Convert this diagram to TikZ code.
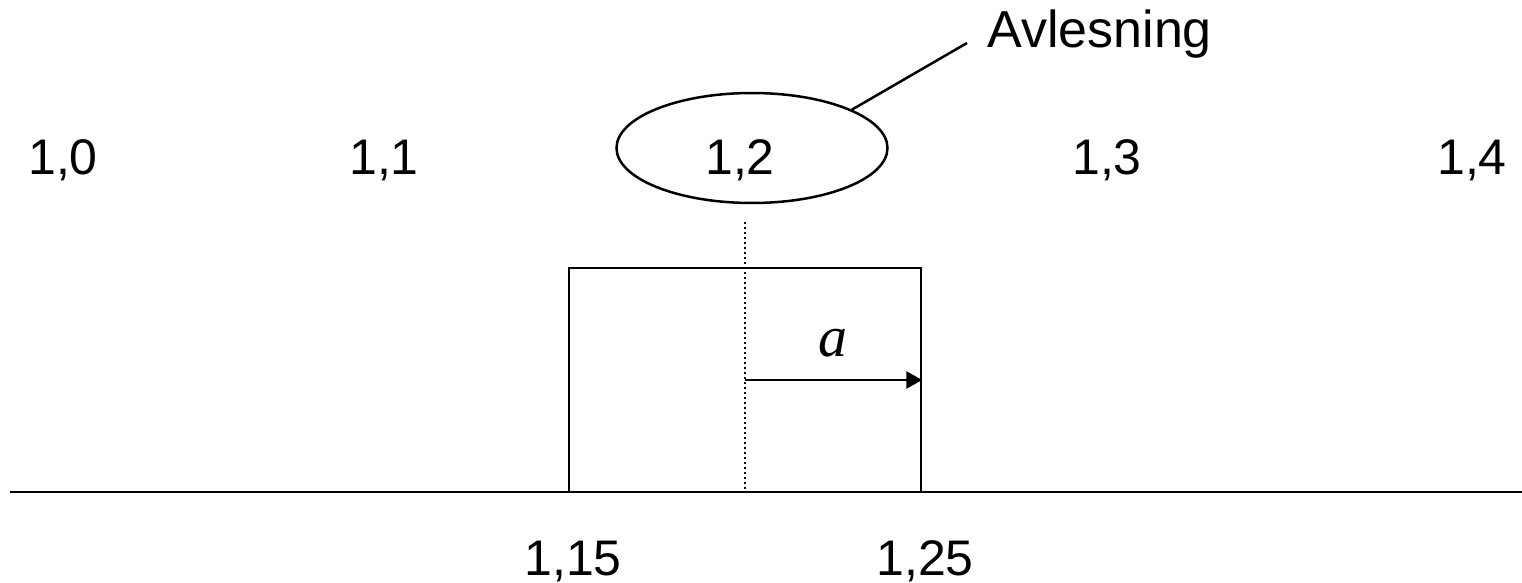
\documentclass[tikz,border=0pt]{standalone}
\usepackage{fontspec}
\setmainfont{Liberation Sans}
\newfontfamily\timesit{Liberation Serif}
\usetikzlibrary{shapes.geometric,arrows.meta}
\tikzset{
  lbl/.style={inner sep=0pt, anchor=base, font=\fontsize{25}{30}\selectfont},
  lin/.style={line width=1.25pt, black},
  dotline/.style={line width=1.2pt, dash pattern=on 1.1pt off 1.4pt},
}
\begin{document}
\begin{tikzpicture}[x=0.5pt,y=-0.5pt]
\useasboundingbox (0,0) rectangle (1522,583);
% scale labels
\node[lbl] (n10) at (63,175) {1,0};
\node[lbl] (n11) at (384,175) {1,1};
\node[lbl] (n12) at (740,175) {1,2};
\node[lbl] (n13) at (1107,175) {1,3};
\node[lbl] (n14) at (1472,175) {1,4};
% ellipse around reading
\node[ellipse, draw, lin, minimum width=135.5pt, minimum height=55pt, inner sep=0pt] (ell) at (752,148) {};
% callout
\node[lbl, anchor=base west, font=\fontsize{26}{31}\selectfont] (avl) at (987,48) {Avlesning};
\coordinate (lead) at (967,43);
\draw[lin] (ell.21) -- (lead);
% box
\node[draw, lin, minimum width=176pt, minimum height=112pt, inner sep=0pt] (box) at (745,380) {};
% baseline
\coordinate (lineL) at (10,492);
\coordinate (lineR) at (1522,492);
\draw[lin] (lineL) -- (lineR);
% dotted center line
\coordinate (dotTop) at (745,222);
\draw[dotline] (dotTop) -- (box.south);
% arrow a
\draw[lin, -{Triangle[length=8pt, width=8.5pt]}] (box.center) -- (box.east);
\node[inner sep=0pt, anchor=base, font=\fontsize{29}{34}\selectfont\timesit\itshape] (alab) at (833,356) {a};
% bottom labels
\node[lbl] (n115) at (573,575) {1,15};
\node[lbl] (n125) at (925,575) {1,25};
\end{tikzpicture}
\end{document}
